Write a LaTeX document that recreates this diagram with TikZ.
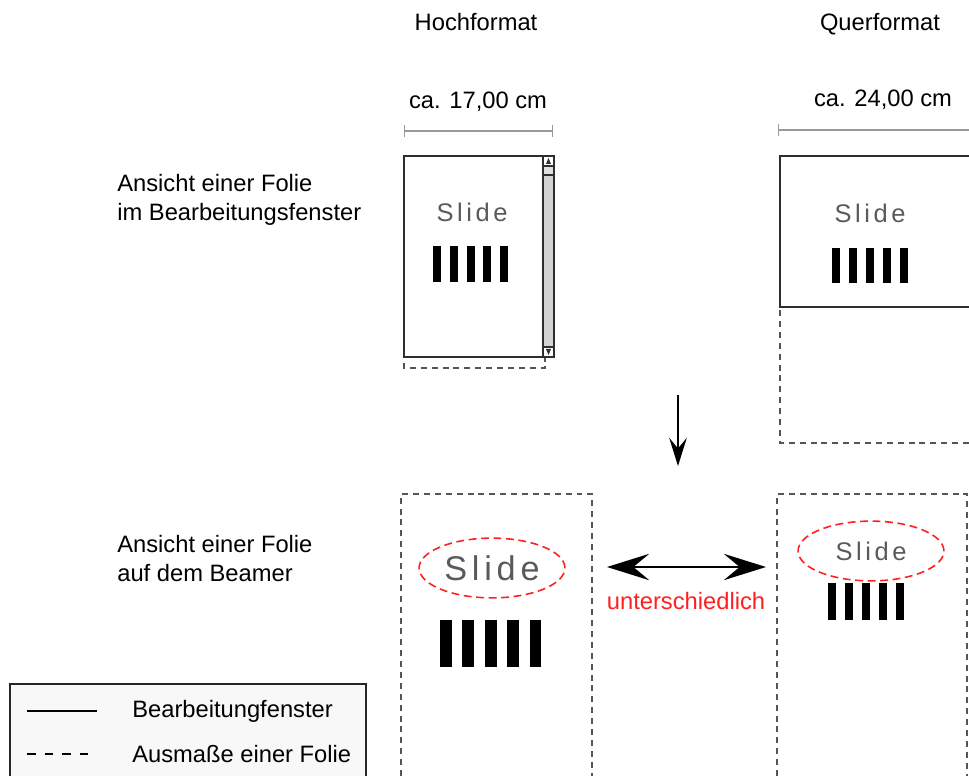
\documentclass[tikz,border=0pt]{standalone}
\usepackage{fontspec}
\setmainfont{Liberation Sans}
\newfontfamily\slidefont[LetterSpace=14]{Liberation Sans}
\usetikzlibrary{arrows.meta, positioning, shapes.geometric}
\definecolor{winline}{HTML}{2E2E2E}
\definecolor{folline}{HTML}{555555}
\definecolor{dimline}{HTML}{9A9A9A}
\definecolor{scrollfill}{HTML}{D2D2D2}
\definecolor{slidegray}{HTML}{5A5A5A}
\definecolor{markred}{HTML}{FF1F1F}
\definecolor{legfill}{HTML}{F8F8F8}
\tikzset{
  txt/.style     = {font=\fontsize{13.5}{16.5}\selectfont, inner sep=0pt},
  window/.style  = {draw=winline, line width=0.8pt},
  folie/.style   = {draw=folline, line width=0.7pt, dash pattern=on 3.4pt off 2.8pt},
  dimen/.style   = {draw=dimline, line width=0.7pt},
  handtxt/.style = {text=slidegray, inner sep=0pt},
  redoval/.style = {ellipse, draw=markred, line width=0.9pt,
                    dash pattern=on 4.5pt off 2.6pt, inner sep=0pt},
  bigarrow/.style = {{Stealth[length=24pt, width=15pt, inset=9pt]}-{Stealth[length=24pt, width=15pt, inset=9pt]},
                     line width=1.3pt},
}

\begin{document}
\begin{tikzpicture}[x=0.02cm, y=-0.02cm]
  \useasboundingbox (0,0) rectangle (969,776);

  % Spaltenkoepfe
  \node[txt] (hoch) at (476,22) {Hochformat};
  \node[txt] (quer) at (880,24) {Querformat};
  \node[txt] (breithoch) at (478,102) {ca. 17,00 cm};
  \node[txt] (breitquer) at (883,100) {ca. 24,00 cm};
  \draw[dimen, {Bar[width=7pt]}-{Bar[width=7pt]}] (404,131) -- (553,131);
  \draw[dimen, {Bar[width=7pt]}-] (778,130) -- (969,130);

  % Zeilenbeschriftungen
  \node[txt, anchor=west, align=left] (zeileedit) at (117,200)
      {Ansicht einer Folie\\im Bearbeitungsfenster};
  \node[txt, anchor=west, align=left] (zeilebeamer) at (117,559)
      {Ansicht einer Folie\\auf dem Beamer};

  % Hochformat im Bearbeitungsfenster
  \draw[folie] (404,156) rectangle (545,368);
  \draw[window] (404,156) rectangle (554,357);
  \draw[window, fill=scrollfill] (543,156) rectangle (554,357);
  \draw[window, fill=white] (543,156) rectangle (554,166);
  \draw[window, fill=scrollfill!70] (543,166) rectangle (554,175);
  \draw[window, fill=white] (543,347) rectangle (554,357);
  \fill[winline] (546,164) -- (551,164) -- (548.5,158) -- cycle;
  \fill[winline] (546,349) -- (551,349) -- (548.5,355) -- cycle;
  \node[handtxt, font=\slidefont\fontsize{14.5}{17}\selectfont] (slidehoch) at (472,212) {Slide};

  % Querformat im Bearbeitungsfenster
  \draw[folie] (969,443) -- (780,443) -- (780,156);
  \draw[window] (969,156) -- (780,156) -- (780,307) -- (969,307);
  \node[handtxt, font=\slidefont\fontsize{14.5}{17}\selectfont] (slidequer) at (870,213) {Slide};

  % auf dem Beamer
  \draw[folie] (401,776) -- (401,494) -- (592,494) -- (592,776);
  \draw[folie] (777,776) -- (777,494) -- (967,494) -- (967,776);
  \node[redoval, handtxt, minimum width=83pt, minimum height=34pt,
        font=\slidefont\fontsize{19.5}{22}\selectfont] (slidebeamhoch) at (492,568) {Slide};
  \node[redoval, handtxt, minimum width=83pt, minimum height=34pt,
        font=\slidefont\fontsize{14.5}{17}\selectfont] (slidebeamquer) at (871,551) {Slide};

  % Balken
  \foreach \bx/\by/\bw/\bh/\bp in {433/246/8/36/16.75, 832/248/8/35/17,
                                    440/620/11.7/47/22.4, 828/583/8.3/37/16.9}
    \foreach \i in {0,...,4}
      \fill (\bx+\i*\bp,\by) rectangle ++(\bw,\bh);

  % Pfeile
  \coordinate (pfeiloben) at (678,395);
  \coordinate (pfeilunten) at (678,466);
  \draw[line width=0.9pt, -{Stealth[length=16pt, width=10pt, inset=6pt]}] (pfeiloben) -- (pfeilunten);
  \coordinate (diffl) at (607,567);
  \coordinate (diffr) at (766,567);
  \draw[bigarrow] (diffl) -- (diffr);
  \node[txt, text=markred] (diff) at (686,601) {unterschiedlich};

  % Legende
  \draw[line width=1.2pt, draw=black!85, fill=legfill] (10,684) rectangle (366,790);
  \coordinate (legAl) at (27,711);
  \coordinate (legAr) at (97,711);
  \coordinate (legBl) at (27,754);
  \coordinate (legBr) at (97,754);
  \draw[line width=0.8pt] (legAl) -- (legAr);
  \draw[line width=0.8pt, dash pattern=on 5pt off 5pt] (legBl) -- (legBr);
  \node[txt, anchor=west] (legA) at (132,711) {Bearbeitungfenster};
  \node[txt, anchor=west] (legB) at (132,754) {Ausmaße einer Folie};
\end{tikzpicture}
\end{document}
